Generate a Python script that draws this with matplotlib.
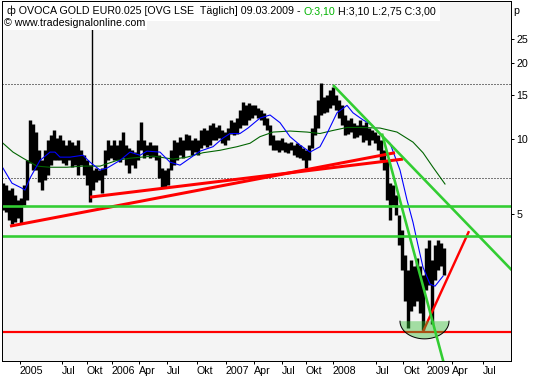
import numpy as np
import matplotlib
matplotlib.use("Agg")
import matplotlib.pyplot as plt
from matplotlib.ticker import NullLocator
from matplotlib.offsetbox import TextArea, HPacker, AnchoredOffsetbox

# ---------------- data (time axis in chart bar-position units) ----------------
bar_pos = [3, 6, 9, 12, 15, 18, 21, 24, 27, 30, 33, 36, 39, 42, 45, 48, 51, 54, 57, 60,
           63, 66, 69, 72, 75, 78, 81, 84, 87, 90, 93, 96, 99, 102, 105, 108, 111, 114, 117, 120,
           123, 126, 129, 132, 135, 138, 141, 144, 147, 150, 153, 156, 159, 162, 165, 168, 171, 174, 177, 180,
           183, 186, 189, 192, 195, 198, 201, 204, 207, 210, 213, 216, 219, 222, 225, 228, 231, 234, 237, 240,
           243, 246, 249, 252, 255, 258, 261, 264, 267, 270, 273, 276, 279, 282, 285, 288, 291, 294, 297, 300,
           303, 306, 309, 312, 315, 318, 321, 324, 327, 330, 333, 336, 339, 342, 345, 348, 351, 354, 357, 360,
           363, 366, 369, 372, 375, 378, 381, 384, 387, 390, 393, 396, 399, 402, 405, 408, 411, 414, 417, 420,
           423, 426, 429, 432, 435, 438, 441, 444]
bar_high = [6.65, 6.53, 6.24, 6.35, 5.96, 5.7, 5.8, 6.53, 8.2, 11.9, 11.5, 10.6, 9.0, 8.2, 9.0, 9.9, 10.35, 10.8, 10.07, 10.35,
            9.9, 9.44, 9.9, 9.7, 9.44, 9.9, 9.0, 8.6, 8.2, 7.85, 7.5, 7.64, 7.5, 7.64, 9.0, 9.9, 9.44, 9.9, 9.44, 9.9,
            10.64, 9.44, 9.18, 9.0, 8.85, 9.9, 11.7, 9.9, 9.44, 9.7, 9.44, 9.44, 8.6, 7.64, 7.5, 7.64, 9.0, 9.9, 9.7, 10.2,
            9.9, 10.5, 10.35, 9.9, 10.07, 9.9, 10.8, 11.04, 10.8, 11.35, 11.6, 11.1, 11.35, 10.8, 10.64, 11.04, 11.9, 11.7, 12.1, 13.0,
            14.0, 13.6, 13.9, 13.6, 13.6, 13.3, 13.0, 12.7, 12.1, 11.35, 10.35, 9.9, 9.9, 10.07, 9.7, 9.6, 9.7, 9.44, 9.6, 9.44,
            9.18, 9.0, 9.44, 11.04, 12.45, 14.3, 16.7, 14.7, 15.0, 15.7, 16.1, 15.0, 14.3, 13.6, 12.45, 11.9, 12.1, 11.6, 11.35, 11.9,
            11.35, 11.7, 11.04, 10.8, 10.64, 10.35, 9.9, 9.0, 8.2, 6.65, 6.53, 5.96, 4.95, 4.31, 3.43, 2.99, 3.27, 3.12, 3.33, 3.12,
            2.85, 3.66, 3.94, 3.27, 3.76, 3.94, 3.83, 3.66]
bar_low = [5.2, 5.09, 4.73, 4.56, 4.64, 4.82, 4.56, 5.43, 5.7, 8.0, 7.5, 7.5, 6.7, 6.24, 6.84, 7.16, 7.85, 8.2, 8.2, 8.2,
           8.0, 7.85, 8.2, 7.7, 7.85, 7.16, 7.85, 7.16, 6.53, 5.6, 6.24, 6.7, 6.84, 6.07, 7.16, 8.2, 8.37, 8.2, 8.2, 8.07,
           8.37, 7.85, 7.3, 7.85, 7.64, 8.2, 9.0, 8.37, 8.6, 8.37, 8.45, 8.2, 6.97, 6.35, 6.35, 6.53, 7.5, 7.85, 8.2, 8.6,
           8.37, 9.0, 9.0, 8.6, 8.85, 8.6, 9.18, 9.44, 9.3, 9.44, 9.9, 9.9, 10.07, 9.6, 9.44, 9.9, 10.5, 10.35, 10.5, 11.04,
           11.35, 11.35, 11.9, 12.1, 12.45, 12.1, 11.9, 11.35, 10.8, 9.44, 9.0, 9.0, 8.85, 9.0, 8.85, 8.8, 9.0, 8.6, 8.45, 8.37,
           8.2, 7.64, 8.2, 9.18, 10.35, 11.04, 12.45, 12.7, 12.8, 13.3, 13.6, 13.0, 12.1, 11.35, 10.35, 10.5, 10.64, 10.07, 10.2, 10.35,
           9.7, 9.9, 9.44, 9.9, 9.6, 9.0, 8.2, 7.5, 5.7, 4.73, 5.43, 4.95, 3.76, 2.99, 2.26, 1.75, 2.06, 2.16, 2.26, 2.01,
           1.72, 2.48, 2.60, 1.83, 2.72, 2.99, 3.12, 2.85]

# single bar with an off-scale high (bad tick)
spike_pos = [92]
spike_high = [60.0]
spike_low = [7.3]

ma_short_pos = [3, 12, 22, 25, 30, 40, 50, 55, 60, 70, 83, 90, 100, 107, 120, 130, 140, 147, 160, 170,
                180, 190, 200, 213, 223, 230, 240, 248, 260, 270, 280, 290, 300, 310, 320, 327, 337, 347, 353, 363,
                372, 380, 390, 400, 407, 413, 418, 423, 430, 435, 443]
ma_short_val = [7.64, 6.65, 6.35, 6.24, 6.97, 8.2, 8.85, 8.85, 8.45, 8.45, 8.6, 8.07, 7.5, 7.64, 8.2, 8.85, 8.6, 8.93, 8.85, 8.07,
                7.85, 8.37, 8.93, 9.3, 10.07, 10.5, 10.5, 11.04, 12.1, 12.45, 11.6, 10.2, 9.44, 8.85, 9.3, 10.5, 12.7, 13.6, 12.7, 11.9,
                11.35, 10.5, 9.6, 7.5, 5.7, 4.64, 3.76, 3.07, 2.63, 2.58, 2.83]

ma_long_pos = [3, 13, 23, 37, 50, 67, 83, 100, 117, 130, 153, 173, 187, 203, 220, 237, 250, 260, 273, 290,
               307, 320, 333, 347, 360, 380, 397, 413, 423, 433, 445]
ma_long_val = [9.6, 8.85, 8.37, 7.78, 7.7, 7.7, 7.78, 7.78, 8.2, 8.37, 8.53, 8.3, 8.45, 8.8, 9.0, 9.3, 9.6, 10.2, 10.64, 10.74,
               10.64, 10.5, 10.8, 11.1, 11.1, 11.04, 10.64, 9.7, 8.8, 7.7, 6.6]

# drawing tools: (start pos, start price, end pos, end price)
red_trends = [(10, 4.48, 395, 8.8), (90, 5.85, 403, 8.3)]
red_rebound = (423, 1.70, 469, 4.28)
red_support = 1.70
green_levels = [5.38, 4.08]
green_trends = [(333, 16.4, 515, 2.90), (382, 10.5, 445, 1.22)]
dotted_levels = [16.6, 6.97]
bowl_center, bowl_halfwidth, bowl_top, bowl_bottom = 424.5, 24.5, 1.87, 1.59

tick_pos = [19.5, 62, 86.5, 111.5, 139, 167, 196.5, 225.5, 254, 281.5, 306, 332.5, 375.5, 403, 426.5, 452, 482.5]
tick_labels = ["2005", "Jul", "Okt", "2006", "Apr", "Jul", "Okt", "2007", "Apr", "Jul", "Okt", "2008",
               "Jul", "Okt", "2009", "Apr", "Jul"]
y_ticks = [5, 10, 15, 20, 25]

# ---------------- figure ----------------
FONT = "Liberation Sans"
FS = 7.7
W, H = 533, 380
fig = plt.figure(figsize=(W / 100, H / 100), dpi=100)
fig.patch.set_facecolor("white")
L, R, B, T = 2, 510.5, 360.5, 1
ax = fig.add_axes([L / W, (H - B) / H, (R - L) / W, (B - T) / H])
ax.set_facecolor("#f4f4f4")
ax.set_yscale("log")
ax.set_xlim(2, 510.5)
ax.set_ylim(1.303, 35.5)

px = 0.72  # one pixel in points

for lv in dotted_levels:
    ax.axhline(lv, color="black", lw=px, ls=(0, (1, 2)), zorder=1)

ax.vlines(bar_pos, bar_low, bar_high, color="black", lw=3.4 * px, zorder=2)
ax.vlines(spike_pos, spike_low, spike_high, color="black", lw=1.4 * px, zorder=2)

ax.plot(ma_long_pos, ma_long_val, color="#006400", lw=1.1 * px, zorder=3)
ax.plot(ma_short_pos, ma_short_val, color="#0000ff", lw=1.1 * px, zorder=3)

for x0, y0, x1, y1 in red_trends:
    ax.plot([x0, x1], [y0, y1], color="#ff0000", lw=3 * px, zorder=4, solid_capstyle="butt")
ax.axhline(red_support, color="#ff0000", lw=2.2 * px, zorder=4)
x0, y0, x1, y1 = red_rebound
ax.plot([x0, x1], [y0, y1], color="#ff0000", lw=2.4 * px, zorder=4, solid_capstyle="butt")

# translucent bowl (lower half ellipse)
t = np.linspace(0, np.pi, 80)
bx = bowl_center + bowl_halfwidth * np.cos(t)
by = 10 ** (np.log10(bowl_top) - (np.log10(bowl_top) - np.log10(bowl_bottom)) * np.sin(t))
ax.fill(bx, by, facecolor=(0.2, 0.75, 0.2, 0.42), edgecolor="none", zorder=5)
ax.plot(bx, by, color="black", lw=1 * px, zorder=5)

for lv in green_levels:
    ax.axhline(lv, color="#32cd32", lw=2.6 * px, zorder=6)
for x0, y0, x1, y1 in green_trends:
    ax.plot([x0, x1], [y0, y1], color="#32cd32", lw=2.6 * px, zorder=6, solid_capstyle="butt")

# axes styling
for s in ax.spines.values():
    s.set_linewidth(1.0 * px)
    s.set_color("black")
    s.set_zorder(20)
ax.yaxis.tick_right()
ax.set_yticks(y_ticks)
ax.set_yticklabels([str(v) for v in y_ticks])
ax.yaxis.set_minor_locator(NullLocator())
ax.tick_params(axis="y", direction="out", length=3 * px, width=px, pad=2, labelsize=FS)
ax.set_xticks(tick_pos)
ax.set_xticklabels(tick_labels)
ax.xaxis.set_minor_locator(NullLocator())
ax.tick_params(axis="x", direction="out", length=3 * px, width=px, pad=2, labelsize=FS)
for lbl in ax.get_xticklabels() + ax.get_yticklabels():
    lbl.set_fontfamily(FONT)
for lbl in ax.get_xticklabels():
    lbl.set_horizontalalignment("left")

# header
props = dict(fontsize=FS, family=FONT)
parts = [TextArea("ф OVOCA GOLD EUR0.025 [OVG LSE  Täglich] 09.03.2009 -", textprops=dict(color="black", **props)),
         TextArea("O:3,10", textprops=dict(color="#00b400", **props)),
         TextArea("H:3,10 L:2,75 C:3,00", textprops=dict(color="black", **props))]
box = HPacker(children=parts, align="baseline", pad=0, sep=2.3)
anch = AnchoredOffsetbox(loc="upper left", child=box, pad=0.3, borderpad=0.05, frameon=True,
                         bbox_to_anchor=(0, 1), bbox_transform=ax.transAxes)
anch.patch.set_facecolor("white")
anch.patch.set_edgecolor("none")
anch.set_zorder(15)
ax.add_artist(anch)

ax.text(2.5 / (R - L), 1 - 17 / (B - T), "© www.tradesignalonline.com", transform=ax.transAxes,
        ha="left", va="top", fontsize=FS, family=FONT, zorder=15,
        bbox=dict(facecolor="white", edgecolor="none", pad=1.2))

fig.text(513.5 / W, 1 - 6 / H, "p", ha="left", va="top", fontsize=FS, family=FONT)

fig.savefig("out.png", dpi=100, facecolor="white")
